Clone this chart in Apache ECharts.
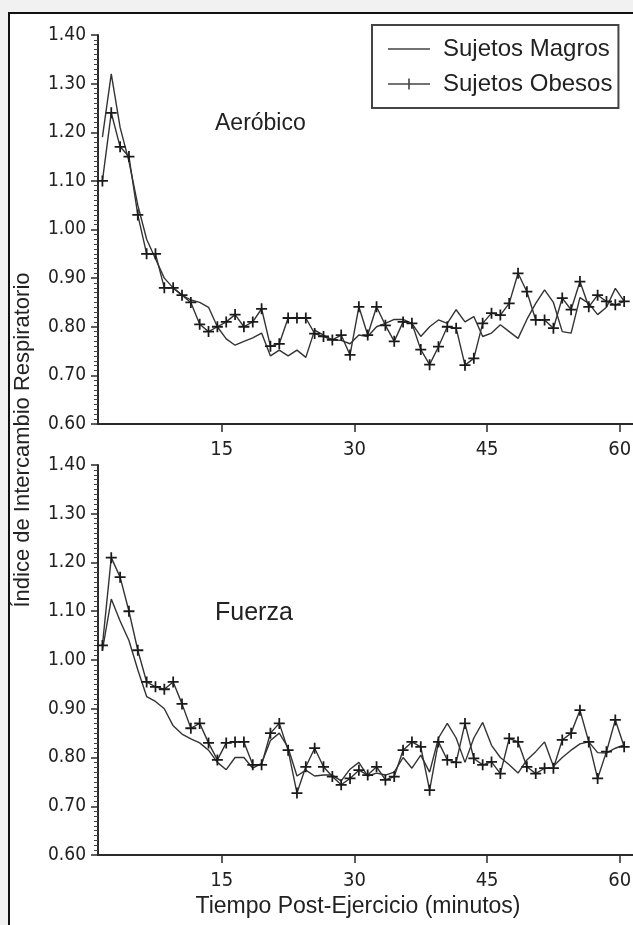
<!DOCTYPE html>
<html>
<head>
<meta charset="utf-8">
<script src="https://cdn.jsdelivr.net/npm/echarts@6/dist/echarts.min.js"></script>
<style>
  html, body { margin: 0; padding: 0; width: 633px; height: 925px; overflow: hidden; background: #f1f1f1; }
  #panel { position: absolute; left: 8px; top: 12px; width: 700px; height: 1000px; background: #fff; border-left: 2px solid #111; border-top: 2px solid #111; }
  #main { position: absolute; left: 0; top: 0; width: 680px; height: 925px; }
</style>
</head>
<body>
<div id="panel"></div>
<div id="main"></div>
<script>
// minutos post-ejercicio
var minutos = [1.5, 2.5, 3.5, 4.5, 5.5, 6.5, 7.5, 8.5, 9.5, 10.5,
  11.5, 12.5, 13.5, 14.5, 15.5, 16.5, 17.5, 18.5, 19.5, 20.5,
  21.5, 22.5, 23.5, 24.5, 25.5, 26.5, 27.5, 28.5, 29.5, 30.5,
  31.5, 32.5, 33.5, 34.5, 35.5, 36.5, 37.5, 38.5, 39.5, 40.5,
  41.5, 42.5, 43.5, 44.5, 45.5, 46.5, 47.5, 48.5, 49.5, 50.5,
  51.5, 52.5, 53.5, 54.5, 55.5, 56.5, 57.5, 58.5, 59.5, 60.5];

// Aerobico
var aerMagros = [1.19, 1.32, 1.21, 1.14, 1.05, 0.98, 0.94, 0.90, 0.88, 0.865,
  0.855, 0.85, 0.84, 0.80, 0.775, 0.762, 0.77, 0.777, 0.787, 0.74,
  0.752, 0.74, 0.752, 0.737, 0.793, 0.783, 0.773, 0.772, 0.765, 0.783,
  0.78, 0.80, 0.807, 0.815, 0.815, 0.807, 0.78, 0.80, 0.814, 0.807,
  0.835, 0.81, 0.821, 0.78, 0.787, 0.804, 0.79, 0.776, 0.815, 0.848,
  0.876, 0.85, 0.79, 0.787, 0.86, 0.848, 0.825, 0.84, 0.879, 0.852];
var aerObesos = [1.10, 1.24, 1.17, 1.15, 1.03, 0.95, 0.95, 0.88, 0.88, 0.865,
  0.85, 0.805, 0.79, 0.80, 0.81, 0.825, 0.80, 0.81, 0.837, 0.76,
  0.765, 0.818, 0.818, 0.818, 0.786, 0.78, 0.773, 0.783, 0.742, 0.841,
  0.783, 0.841, 0.803, 0.77, 0.81, 0.807, 0.753, 0.722, 0.759, 0.80,
  0.797, 0.721, 0.735, 0.807, 0.828, 0.824, 0.848, 0.91, 0.872, 0.814,
  0.814, 0.797, 0.859, 0.835, 0.893, 0.841, 0.865, 0.852, 0.845, 0.852];

// Fuerza
var fueMagros = [1.02, 1.125, 1.08, 1.04, 0.98, 0.925, 0.915, 0.90, 0.865, 0.848,
  0.838, 0.83, 0.815, 0.79, 0.775, 0.80, 0.80, 0.778, 0.788, 0.835,
  0.85, 0.82, 0.762, 0.774, 0.762, 0.764, 0.764, 0.752, 0.776, 0.79,
  0.762, 0.768, 0.764, 0.77, 0.80, 0.778, 0.805, 0.77, 0.84, 0.87,
  0.84, 0.79, 0.84, 0.872, 0.825, 0.80, 0.785, 0.768, 0.795, 0.812,
  0.832, 0.782, 0.80, 0.815, 0.828, 0.832, 0.81, 0.809, 0.819, 0.826];
var fueObesos = [1.03, 1.21, 1.17, 1.10, 1.02, 0.955, 0.945, 0.94, 0.955, 0.91,
  0.86, 0.87, 0.83, 0.795, 0.83, 0.832, 0.832, 0.785, 0.785, 0.85,
  0.87, 0.815, 0.727, 0.781, 0.819, 0.781, 0.761, 0.744, 0.757, 0.774,
  0.764, 0.781, 0.754, 0.761, 0.815, 0.832, 0.822, 0.733, 0.832, 0.795,
  0.79, 0.87, 0.798, 0.785, 0.791, 0.767, 0.839, 0.832, 0.781, 0.767,
  0.778, 0.778, 0.836, 0.85, 0.897, 0.832, 0.757, 0.812, 0.877, 0.822];

var xTicks = [15, 30, 45, 60];

var plus = 'path://M4.2,0H5.8V4.2H10V5.8H5.8V10H4.2V5.8H0V4.2H4.2Z';
// iconos de leyenda (con puntos minimos en las esquinas para fijar la caja)
var iconoLinea = 'path://M0,0h0.01v0.01h-0.01z M41.99,13.99h0.01v0.01h-0.01z M0,6.3H42V7.7H0Z';
var iconoCruz = 'path://M0,0h0.01v0.01h-0.01z M41.99,13.99h0.01v0.01h-0.01z M0,6.3H20.2V1.5H21.8V6.3H42V7.7H21.8V12.5H20.2V7.7H0Z';
var ink = '#2a2a2a';
var fuente = '"Liberation Sans", Arial, sans-serif';
var fuenteEje = '"Liberation Sans Narrow", "DejaVu Sans Condensed", sans-serif';

function pares(vals) {
    return minutos.map(function (m, i) { return [m, vals[i]]; });
}

function ejeX(idx) {
    return {
        type: 'value', gridIndex: idx, min: 1, max: 61.5,
        axisLine: { lineStyle: { color: ink, width: 2 } },
        axisTick: { customValues: xTicks, length: 8, lineStyle: { color: ink, width: 1.5 } },
        axisLabel: { customValues: xTicks, margin: 16, color: '#222', fontSize: 20, fontFamily: fuenteEje },
        splitLine: { show: false }
    };
}

function ejeY(idx) {
    return {
        type: 'value', gridIndex: idx, min: 0.6, max: 1.4, interval: 0.1,
        axisLine: { show: true, lineStyle: { color: ink, width: 2 } },
        axisTick: { length: 7, lineStyle: { color: ink, width: 1.5 } },
        minorTick: { show: true, splitNumber: 10, length: 4, lineStyle: { color: '#444', width: 1 } },
        axisLabel: { margin: 12, color: '#222', fontSize: 19, fontFamily: fuenteEje,
            formatter: function (v) { return v.toFixed(2); } },
        splitLine: { show: false }
    };
}

function linea(name, idx, vals, conMarca) {
    return {
        name: name, type: 'line', xAxisIndex: idx, yAxisIndex: idx,
        data: pares(vals),
        symbol: conMarca ? plus : 'none', symbolSize: 11, showSymbol: conMarca,
        lineStyle: { color: '#333', width: 1.4 },
        itemStyle: { color: '#1a1a1a' },
        animation: false, z: conMarca ? 3 : 2
    };
}

var chart = echarts.init(document.getElementById('main'));
chart.setOption({
    backgroundColor: 'transparent',
    animation: false,
    grid: [
        { left: 98, top: 35, width: 535, height: 389 },
        { left: 98, top: 465, width: 535, height: 390 }
    ],
    xAxis: [ejeX(0), ejeX(1)],
    yAxis: [ejeY(0), ejeY(1)],
    legend: {
        data: [
            { name: 'Sujetos Magros', icon: iconoLinea },
            { name: 'Sujetos Obesos', icon: iconoCruz }
        ],
        orient: 'vertical', left: 372, top: 25,
        itemWidth: 42, itemHeight: 14, itemGap: 11,
        padding: [12, 6, 12, 16],
        borderColor: '#444', borderWidth: 2,
        backgroundColor: '#fff',
        itemStyle: { color: '#444' },
        textStyle: { fontSize: 24, color: '#222', fontFamily: fuente, padding: [0, 0, 0, 8] }
    },
    graphic: [
        { type: 'text', left: 215, top: 112, style: { text: 'Aeróbico', font: '23px ' + fuente, fill: '#222' } },
        { type: 'text', left: 215, top: 601, style: { text: 'Fuerza', font: '25px ' + fuente, fill: '#222' } },
        { type: 'text', x: 23, y: 440, rotation: Math.PI / 2,
          style: { text: 'Índice de Intercambio Respiratorio', font: '22px ' + fuente, fill: '#222', align: 'center', verticalAlign: 'middle' } },
        { type: 'text', x: 358, y: 907,
          style: { text: 'Tiempo Post-Ejercicio (minutos)', font: '23px ' + fuente, fill: '#222', align: 'center', verticalAlign: 'middle' } }
    ],
    series: [
        linea('Sujetos Magros', 0, aerMagros, false),
        linea('Sujetos Obesos', 0, aerObesos, true),
        linea('Sujetos Magros', 1, fueMagros, false),
        linea('Sujetos Obesos', 1, fueObesos, true)
    ]
});
</script>
</body>
</html>
